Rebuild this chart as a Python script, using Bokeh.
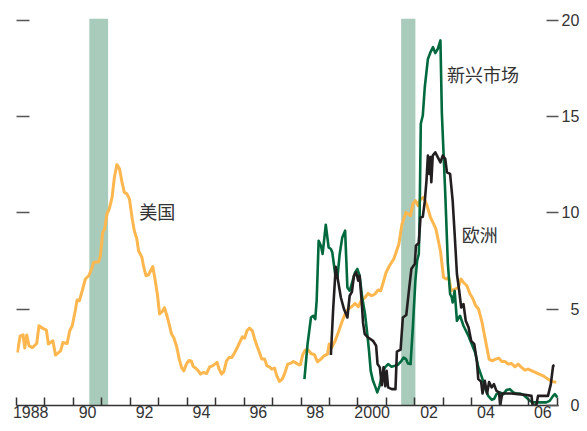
from bokeh.plotting import figure
from bokeh.models import Range1d, LinearAxis, FixedTicker
from bokeh.embed import file_html
from bokeh.resources import INLINE
from bokeh.core.properties import value

# ---------------- data ----------------
us_year = [1988.03, 1988.13, 1988.23, 1988.29, 1988.36, 1988.44, 1988.56, 1988.71, 1988.79, 1988.91,
           1989.05, 1989.12, 1989.28, 1989.37, 1989.55, 1989.63, 1989.78, 1989.87, 1989.96, 1990.07,
           1990.13, 1990.21, 1990.31, 1990.42, 1990.54, 1990.66, 1990.71, 1990.89, 1990.95, 1991.03,
           1991.10, 1991.18, 1991.26, 1991.36, 1991.44, 1991.53, 1991.62, 1991.71, 1991.79, 1991.88,
           1991.97, 1992.06, 1992.14, 1992.23, 1992.29, 1992.41, 1992.46, 1992.55, 1992.64, 1992.79,
           1992.87, 1992.95, 1993.03, 1993.12, 1993.20, 1993.28, 1993.37, 1993.45, 1993.53, 1993.63,
           1993.72, 1993.80, 1993.88, 1993.97, 1994.06, 1994.15, 1994.21, 1994.31, 1994.39, 1994.47,
           1994.56, 1994.68, 1994.79, 1994.89, 1994.97, 1995.05, 1995.12, 1995.21, 1995.29, 1995.38,
           1995.47, 1995.57, 1995.67, 1995.76, 1995.84, 1995.94, 1996.02, 1996.10, 1996.19, 1996.29,
           1996.37, 1996.45, 1996.54, 1996.62, 1996.72, 1996.80, 1996.89, 1996.97, 1997.07, 1997.15,
           1997.24, 1997.34, 1997.44, 1997.53, 1997.65, 1997.73, 1997.83, 1997.92, 1997.98, 1998.06,
           1998.15, 1998.26, 1998.35, 1998.47, 1998.58, 1998.70, 1998.81, 1998.93, 1998.99, 1999.08,
           1999.20, 1999.31, 1999.43, 1999.55, 1999.66, 1999.78, 1999.90, 2000.01, 2000.13, 2000.25,
           2000.36, 2000.48, 2000.60, 2000.71, 2000.80, 2000.89, 2000.99, 2001.11, 2001.26, 2001.34,
           2001.44, 2001.55, 2001.69, 2001.85, 2001.93, 2002.02, 2002.11, 2002.20, 2002.31, 2002.43,
           2002.55, 2002.66, 2002.74, 2002.90, 2003.01, 2003.10, 2003.19, 2003.28, 2003.42, 2003.53,
           2003.62, 2003.71, 2003.83, 2003.94, 2004.02, 2004.14, 2004.24, 2004.35, 2004.44, 2004.52,
           2004.61, 2004.72, 2004.84, 2004.96, 2005.05, 2005.17, 2005.28, 2005.40, 2005.52, 2005.63,
           2005.75, 2005.87, 2005.98, 2006.16, 2006.33, 2006.51, 2006.68, 2006.83, 2006.97]
us_val = [2.75, 3.62, 3.67, 2.98, 3.66, 3.10, 3.01, 3.22, 4.14, 4.02,
          3.92, 3.19, 3.36, 2.62, 2.84, 3.27, 3.22, 3.88, 4.14, 4.96,
          5.48, 5.44, 5.96, 6.57, 6.74, 7.17, 7.43, 7.47, 7.78, 8.99,
          9.17, 9.95, 10.21, 10.81, 11.85, 12.51, 12.29, 11.59, 11.07, 10.99,
          10.73, 9.77, 9.08, 8.65, 8.04, 7.69, 7.26, 6.74, 6.79, 7.22,
          6.55, 5.79, 4.75, 4.88, 5.08, 4.70, 4.20, 3.71, 3.52, 3.05,
          2.41, 1.98, 1.80, 2.15, 2.34, 2.30, 2.03, 1.92, 1.80, 1.63,
          1.72, 1.66, 2.01, 2.06, 2.15, 2.24, 1.89, 1.63, 1.77, 2.32,
          2.49, 2.49, 2.75, 3.01, 3.27, 3.57, 3.50, 3.88, 4.02, 3.88,
          3.45, 3.10, 2.75, 2.41, 2.41, 2.06, 2.01, 1.89, 1.94, 1.54,
          1.25, 1.37, 1.72, 2.15, 2.20, 2.29, 2.20, 2.12, 2.12, 2.64,
          2.88, 2.88, 2.70, 2.64, 2.27, 2.41, 2.58, 2.67, 3.19, 3.01,
          3.36, 3.79, 4.31, 4.75, 5.01, 5.13, 5.30, 5.13, 5.48, 5.61,
          5.82, 5.70, 5.79, 6.00, 5.96, 6.39, 6.91, 7.26, 7.61, 7.95,
          8.39, 9.43, 10.03, 9.86, 10.47, 10.64, 10.38, 10.73, 10.81, 10.38,
          9.77, 9.43, 9.17, 8.04, 6.65, 6.57, 6.65, 5.96, 6.05, 6.13,
          6.57, 6.39, 6.22, 5.79, 5.61, 5.18, 5.01, 4.40, 3.71, 3.10,
          2.41, 2.32, 2.41, 2.45, 2.29, 2.29, 2.15, 2.18, 2.01, 2.15,
          1.98, 1.84, 1.89, 1.77, 1.66, 1.54, 1.37, 1.25, 1.20]

em_year = [1998.12, 1998.23, 1998.35, 1998.43, 1998.50, 1998.55, 1998.62, 1998.70, 1998.76, 1998.87,
           1998.97, 1999.05, 1999.10, 1999.20, 1999.28, 1999.36, 1999.45, 1999.55, 1999.63, 1999.71,
           1999.78, 1999.90, 1999.98, 2000.06, 2000.15, 2000.25, 2000.33, 2000.39, 2000.45, 2000.53,
           2000.60, 2000.68, 2000.76, 2000.85, 2000.95, 2001.06, 2001.18, 2001.30, 2001.41, 2001.53,
           2001.61, 2001.69, 2001.76, 2001.85, 2001.93, 2002.02, 2002.08, 2002.14, 2002.17, 2002.21,
           2002.28, 2002.35, 2002.46, 2002.55, 2002.64, 2002.72, 2002.81, 2002.90, 2002.95, 2003.07,
           2003.16, 2003.24, 2003.30, 2003.33, 2003.40, 2003.48, 2003.59, 2003.71, 2003.89, 2004.00,
           2004.12, 2004.23, 2004.35, 2004.47, 2004.58, 2004.70, 2004.79, 2004.87, 2004.99, 2005.11,
           2005.22, 2005.34, 2005.46, 2005.57, 2005.69, 2005.81, 2005.92, 2006.04, 2006.16, 2006.33,
           2006.51, 2006.62, 2006.74, 2006.86, 2006.92, 2007.01]
em_val = [1.37, 3.19, 4.57, 4.66, 4.49, 5.44, 8.56, 8.30, 7.87, 9.39,
          8.21, 8.13, 7.95, 6.83, 6.65, 7.87, 8.73, 9.08, 6.13, 5.96,
          6.31, 6.91, 7.09, 6.74, 5.61, 4.75, 3.71, 2.84, 1.80, 1.28,
          1.02, 0.68, 1.02, 1.63, 1.98, 2.15, 2.01, 2.06, 2.12, 2.32,
          2.49, 2.41, 2.18, 2.15, 4.05, 6.48, 7.52, 7.87, 9.95, 14.63,
          15.06, 16.53, 18.00, 18.35, 18.61, 18.30, 18.53, 18.96, 15.20, 11.00,
          7.40, 5.79, 5.61, 5.35, 5.96, 4.40, 4.66, 4.14, 3.60, 3.20,
          2.75, 2.00, 1.50, 0.90, 0.50, 0.30, 0.35, 0.59, 0.68, 0.59,
          0.80, 0.85, 0.68, 0.62, 0.62, 0.56, 0.42, 0.24, 0.16, 0.16,
          0.16, 0.16, 0.24, 0.50, 0.59, 0.42]

eu_year = [1999.05, 1999.13, 1999.22, 1999.30, 1999.40, 1999.51, 1999.63, 1999.71, 1999.79, 1999.86,
           1999.94, 2000.01, 2000.06, 2000.13, 2000.18, 2000.24, 2000.36, 2000.53, 2000.64, 2000.69,
           2000.77, 2000.84, 2000.90, 2000.96, 2001.01, 2001.06, 2001.19, 2001.32, 2001.37, 2001.50,
           2001.58, 2001.70, 2001.81, 2001.88, 2002.00, 2002.04, 2002.14, 2002.20, 2002.28, 2002.35,
           2002.41, 2002.46, 2002.51, 2002.55, 2002.58, 2002.63, 2002.72, 2002.81, 2002.90, 2002.98,
           2003.07, 2003.13, 2003.24, 2003.33, 2003.40, 2003.48, 2003.56, 2003.63, 2003.71, 2003.79,
           2003.89, 2003.98, 2004.09, 2004.18, 2004.23, 2004.33, 2004.38, 2004.46, 2004.54, 2004.61,
           2004.70, 2004.78, 2004.87, 2004.96, 2005.00, 2005.07, 2005.22, 2005.40, 2005.63, 2005.87,
           2006.10, 2006.14, 2006.27, 2006.33, 2006.51, 2006.68, 2006.78, 2006.86, 2006.91]
eu_val = [2.62, 5.00, 7.20, 6.50, 5.61, 5.01, 4.57, 5.70, 5.90, 6.74,
          6.91, 6.48, 6.74, 5.44, 4.30, 3.71, 3.53, 3.36, 3.10, 2.15,
          1.98, 1.05, 1.98, 1.00, 1.80, 0.94, 0.85, 0.85, 2.80, 2.90,
          4.57, 4.70, 6.20, 7.10, 7.35, 8.30, 8.45, 9.77, 9.80, 10.60,
          11.68, 12.98, 12.03, 12.90, 11.60, 12.98, 13.15, 12.89, 12.63, 12.98,
          12.81, 12.11, 12.03, 10.64, 8.91, 6.83, 5.96, 5.09, 5.27, 4.40,
          4.05, 3.36, 3.19, 2.32, 1.37, 1.24, 0.62, 1.28, 0.62, 1.22,
          0.94, 1.11, 0.76, 0.68, 0.00, 0.62, 0.62, 0.62, 0.59, 0.56,
          0.50, 0.00, 0.00, 0.50, 0.50, 0.50, 1.11, 2.06, 2.10]

recession_start = [1990.56, 2001.52]
recession_end = [1991.22, 2002.02]

year_ticks = list(range(1988, 2008))
year_label_pos = [1988.5, 1990.5, 1992.5, 1994.5, 1996.5, 1998.5, 2000.5, 2002.5, 2004.5, 2006.5]
year_labels = ["1988", "90", "92", "94", "96", "98", "2000", "02", "04", "06"]
y_ticks = [0, 5, 10, 15, 20]
y_labels = ["\u20070", "\u20075", "10", "15", "20"]

series_names = ["美国", "新兴市场", "欧洲"]
name_x = [1992.31, 2003.13, 2003.65]
name_y = [10.10, 17.24, 8.93]

# ---------------- figure ----------------
FONT = "Liberation Sans"
TXT = "#333333"

p = figure(width=582, height=429,
           x_range=Range1d(1988, 2007.05), y_range=Range1d(0, 20.1),
           output_backend="svg", toolbar_location=None,
           min_border_left=16, min_border_right=22, min_border_top=18, min_border_bottom=24)
p.outline_line_color = None
p.xgrid.visible = False
p.ygrid.visible = False
p.background_fill_color = "white"
p.border_fill_color = "white"

# x axis: labels at mid-year, small yearly ticks at year boundaries
xa = p.xaxis[0]
xa.ticker = FixedTicker(ticks=year_label_pos, minor_ticks=year_ticks)
xa.major_label_overrides = dict(zip(year_label_pos, year_labels))
xa.major_tick_in = 0
xa.major_tick_out = 0
xa.major_tick_line_color = None
xa.minor_tick_in = 8
xa.minor_tick_out = 0
xa.minor_tick_line_color = "#333333"
xa.minor_tick_line_width = 1.5
xa.axis_line_color = "#333333"
xa.axis_line_width = 1.5
xa.major_label_standoff = 0
xa.major_label_text_font = FONT
xa.major_label_text_font_size = "16px"
xa.major_label_text_color = TXT

# left y axis: inner tick marks only (drawn as minor ticks, so no labels)
ya = p.yaxis[0]
ya.ticker = FixedTicker(ticks=[], minor_ticks=y_ticks[1:])
ya.minor_tick_in = 13
ya.minor_tick_out = 0
ya.minor_tick_line_color = "#555555"
ya.minor_tick_line_width = 1.5
ya.major_tick_line_color = None
ya.axis_line_color = None
ya.major_label_standoff = 0

# right y axis with labels
ra = LinearAxis(ticker=FixedTicker(ticks=y_ticks),
                major_label_overrides=dict(zip(y_ticks, y_labels)),
                major_tick_in=12, major_tick_out=0,
                major_tick_line_color="#555555", major_tick_line_width=1.5,
                minor_tick_line_color=None, axis_line_color=None,
                major_label_standoff=3,
                major_label_text_font=FONT, major_label_text_font_size="16px",
                major_label_text_color=TXT)
p.add_layout(ra, "right")

# recession bands
p.quad(left=recession_start, right=recession_end, bottom=0, top=20.1,
       fill_color="#a9cbbb", line_color=None)

# lines
p.line(us_year, us_val, line_color="#fdb74e", line_width=3, line_join="round")
p.line(em_year, em_val, line_color="#00693e", line_width=2.6, line_join="round")
p.line(eu_year, eu_val, line_color="#231f20", line_width=2.6, line_join="round")

# series names
p.text(x=name_x, y=name_y, text=series_names,
       text_font=value("Noto Sans CJK SC"), text_font_size="18px",
       text_color=TXT, text_align="left", text_baseline="middle")

open("out.html", "w").write(file_html(p, INLINE))
